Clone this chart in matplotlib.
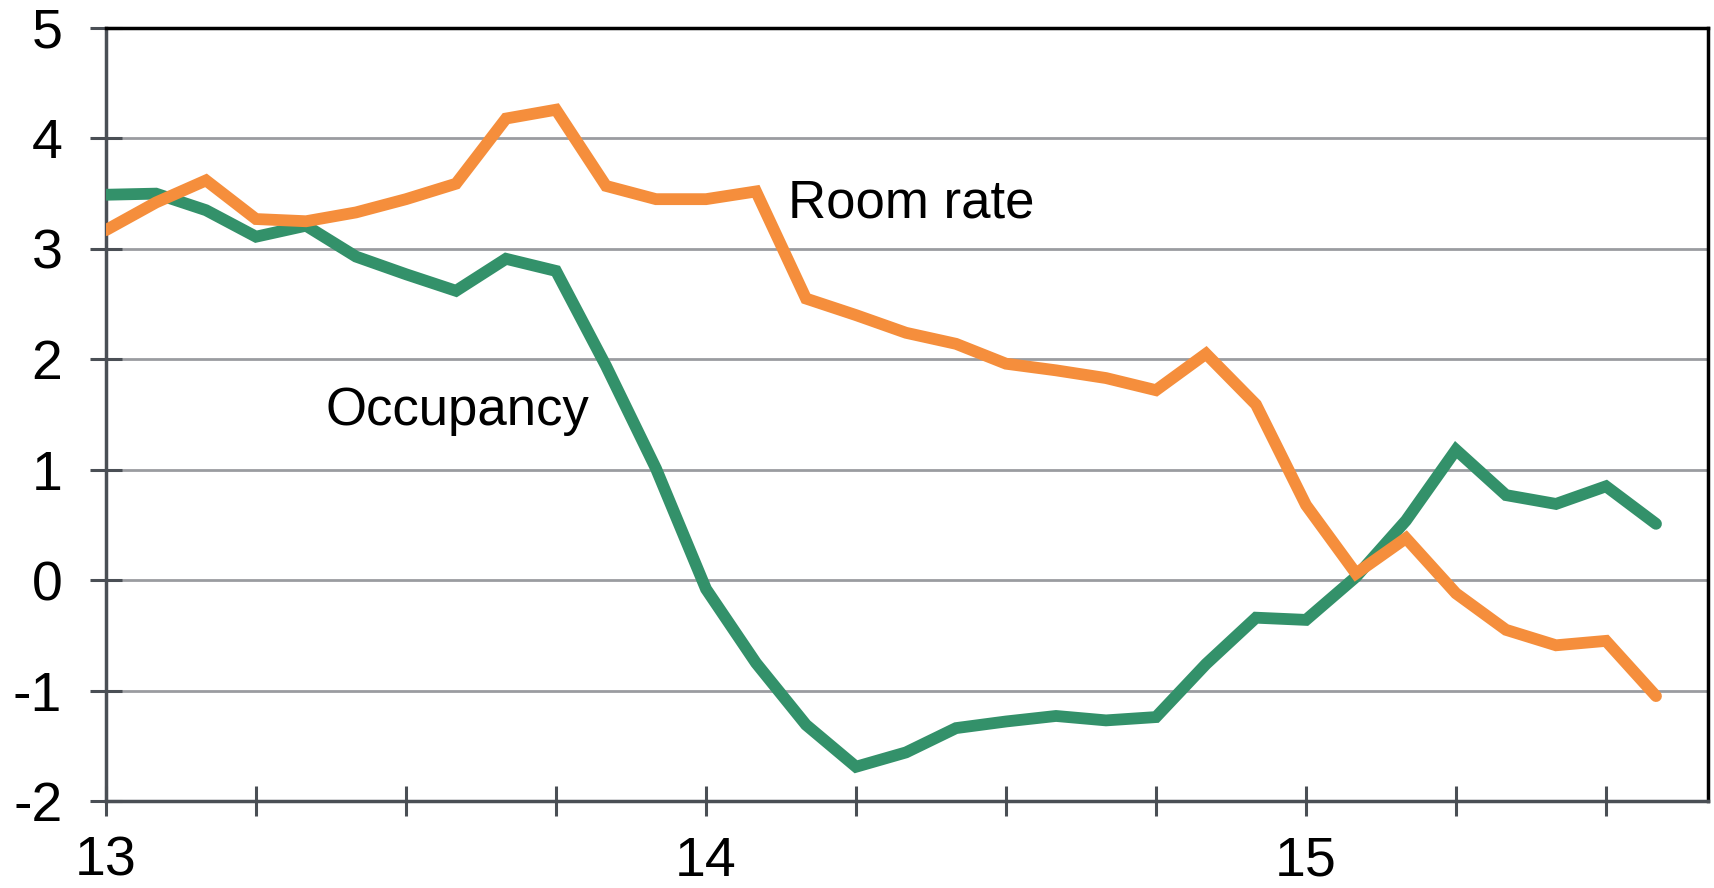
import matplotlib
matplotlib.use("Agg")
import matplotlib.pyplot as plt
import numpy as np
from matplotlib.ticker import MultipleLocator, FixedLocator

plt.rcParams['font.family'] = ['Liberation Sans', 'DejaVu Sans']

# Monthly data starting at year 13 (Jan)
occupancy = [3.49, 3.50, 3.35, 3.11, 3.21, 2.93, 2.77, 2.62, 2.91, 2.80,
             1.94, 1.01, -0.08, -0.75, -1.31, -1.69, -1.56, -1.34, -1.28, -1.23,
             -1.27, -1.24, -0.76, -0.34, -0.36, 0.03, 0.54, 1.18, 0.77, 0.69,
             0.85, 0.51]
room_rate = [3.17, 3.42, 3.62, 3.27, 3.25, 3.33, 3.45, 3.59, 4.18, 4.26,
             3.57, 3.45, 3.45, 3.52, 2.55, 2.40, 2.24, 2.14, 1.96, 1.90,
             1.83, 1.72, 2.05, 1.59, 0.68, 0.06, 0.38, -0.12, -0.45, -0.59,
             -0.55, -1.05]
start_year = 13
x = [start_year + i / 12 for i in range(len(occupancy))]
year_ticks = [13, 14, 15]
y_ticks = [-2, -1, 0, 1, 2, 3, 4, 5]

fig = plt.figure(figsize=(17.14, 8.88), dpi=100)
W, H = 1714, 888
ax = fig.add_axes([106 / W, 1 - 801 / H, (1708 - 106) / W, (801 - 28) / H])

green = '#33916a'
orange = '#f58e3c'
ax.plot(x, occupancy, color=green, lw=8.5, solid_capstyle='round', solid_joinstyle='miter', zorder=3)
ax.plot(x, room_rate, color=orange, lw=8.5, solid_capstyle='round', solid_joinstyle='miter', zorder=4)

ax.set_xlim(13, 15.67)
ax.set_ylim(-2, 5)

ax.set_yticks(y_ticks)
ax.set_yticklabels([str(v) for v in y_ticks])
ax.xaxis.set_major_locator(FixedLocator(year_ticks))
ax.set_xticklabels([str(v) for v in year_ticks])
ax.xaxis.set_minor_locator(MultipleLocator(0.25))

for v in y_ticks[1:-1]:
    ax.axhline(v, color='#9a9ca0', lw=2.0, zorder=1)

spine_col = '#4a4f55'
for s in ['left', 'bottom']:
    ax.spines[s].set_color(spine_col)
    ax.spines[s].set_linewidth(2.5)
for s in ['top', 'right']:
    ax.spines[s].set_color('black')
    ax.spines[s].set_linewidth(2.5)

ax.tick_params(axis='y', direction='inout', length=23, width=2.2, color=spine_col,
               labelsize=40, pad=20)
ax.tick_params(axis='x', which='both', direction='inout', length=22, width=2.2,
               color=spine_col, labelsize=40, pad=14)

ax.text(788, H - 217, 'Room rate', transform=None, fontsize=38, ha='left', va='baseline')
ax.text(325, H - 425, 'Occupancy', transform=None, fontsize=38, ha='left', va='baseline')

fig.savefig('out.png', dpi=100)
